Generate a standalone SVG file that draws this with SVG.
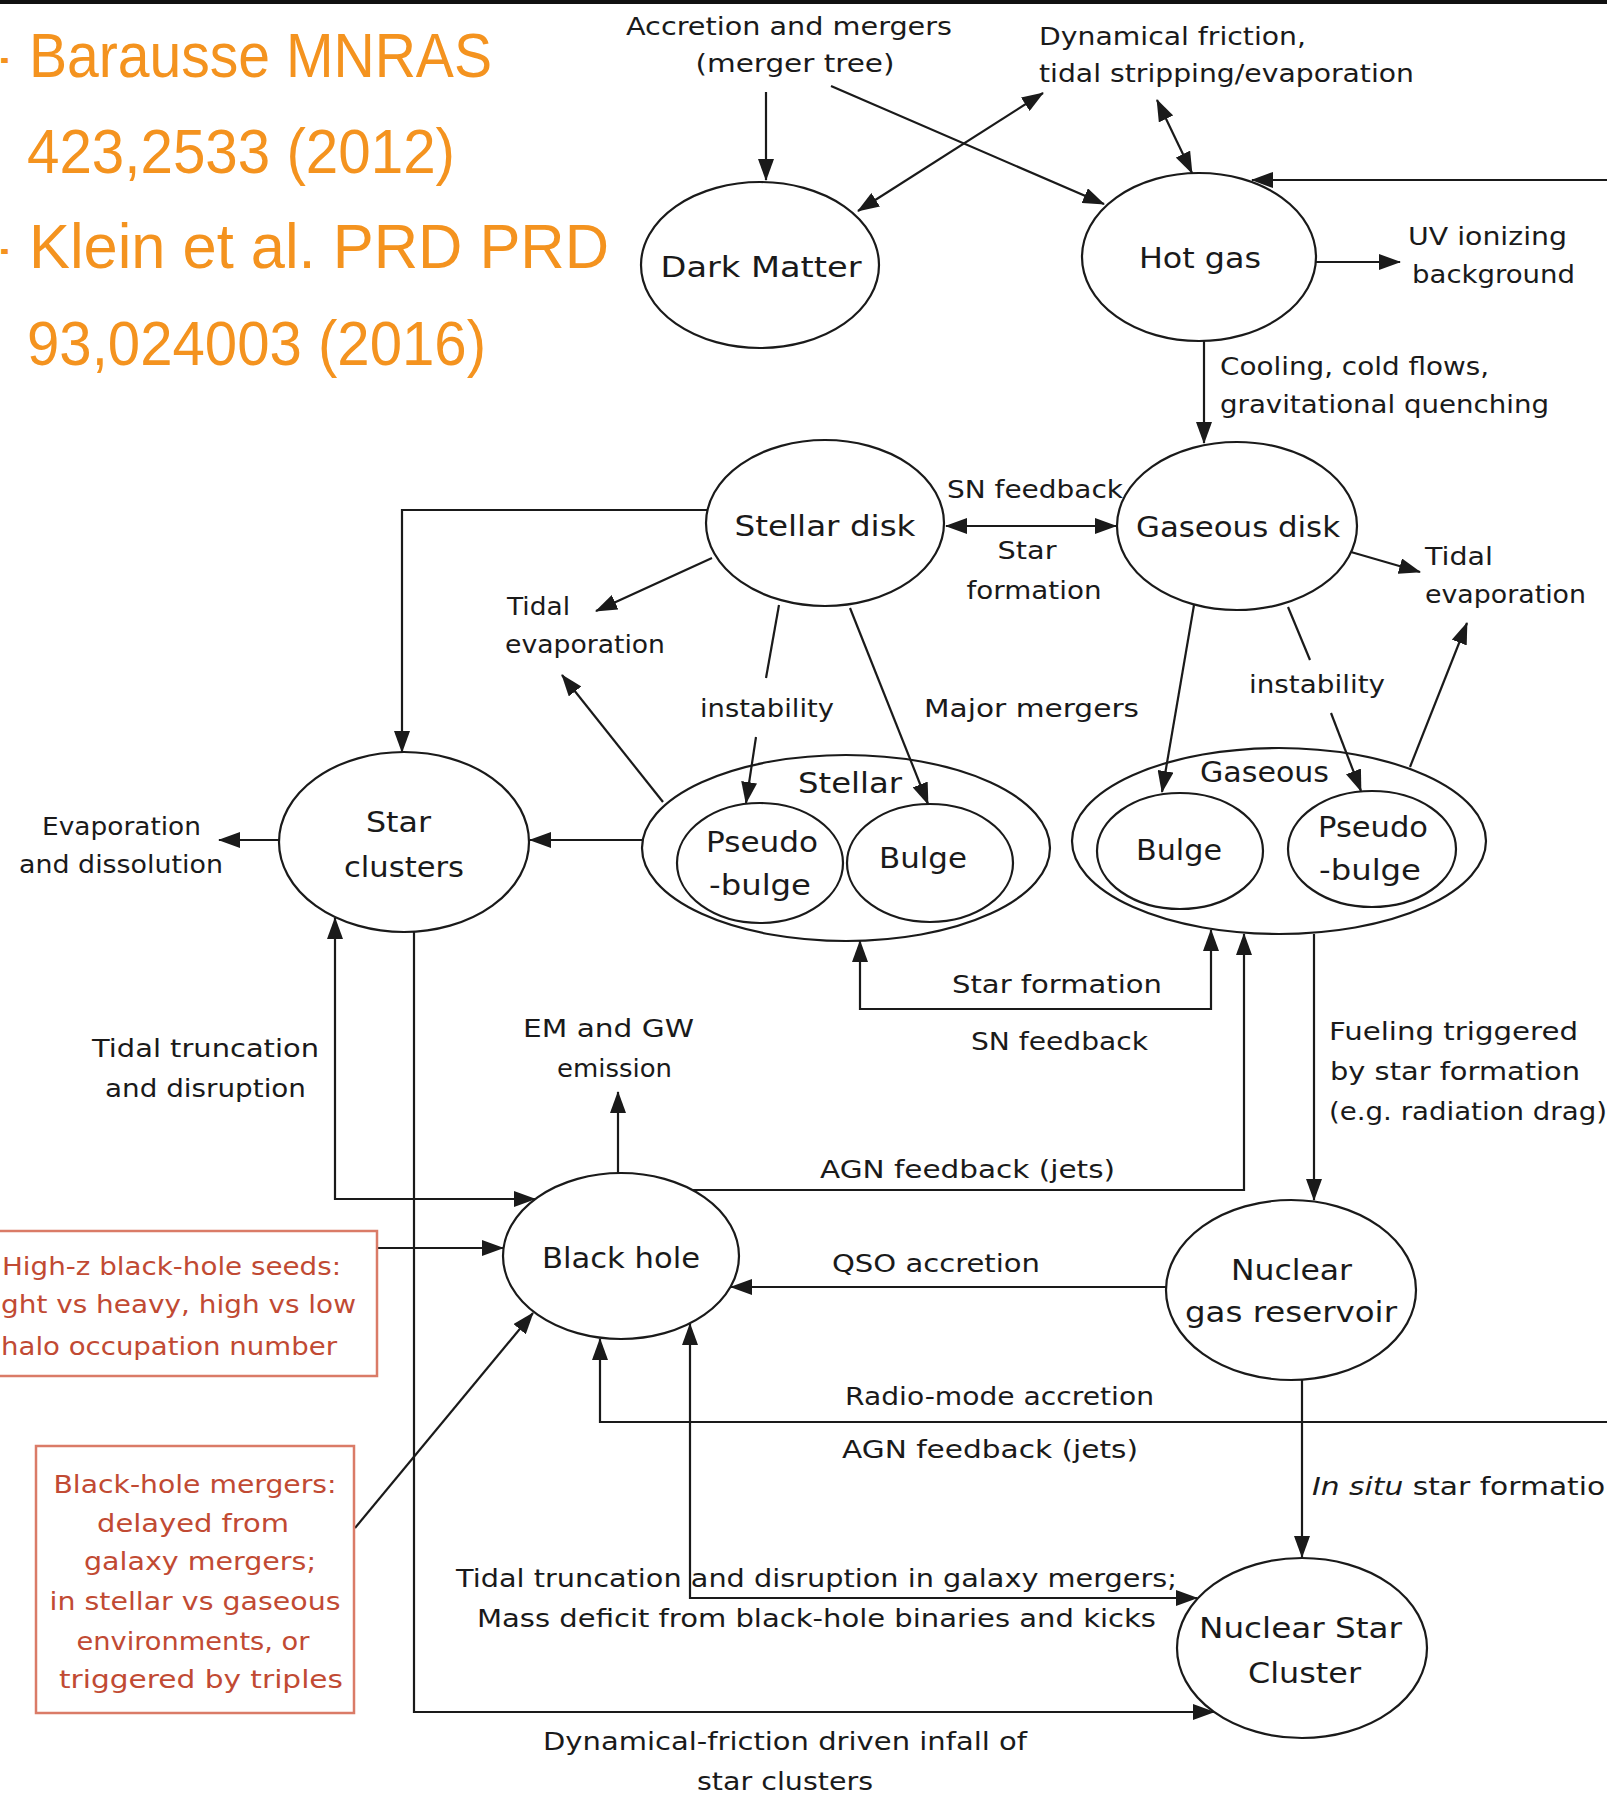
<svg xmlns="http://www.w3.org/2000/svg" width="1607" height="1794" viewBox="0 0 1607 1794">
<defs>
<marker id="ah" viewBox="0 0 22 16" refX="21" refY="8" markerWidth="22" markerHeight="16" markerUnits="userSpaceOnUse" orient="auto-start-reverse">
<path d="M0,0 L22,8 L0,16 z" fill="#1a1a1a"/>
</marker>
<style>
.ref{font-family:"Liberation Sans",Arial,sans-serif;font-size:63px;fill:#F4931F;}
.n{fill:none;stroke:#1a1a1a;stroke-width:2.2;}
.c{fill:none;stroke:#1a1a1a;stroke-width:2.2;}
.a{marker-end:url(#ah);}
.b{marker-start:url(#ah);marker-end:url(#ah);}
.t{font-family:"DejaVu Sans","Liberation Sans",sans-serif;font-size:25px;fill:#1a1a1a;}
.nt{font-family:"DejaVu Sans","Liberation Sans",sans-serif;font-size:28px;fill:#1a1a1a;}
.m{text-anchor:middle;}
.rb{fill:none;stroke:#DA7B67;stroke-width:2.5;}
.rt{font-family:"DejaVu Sans","Liberation Sans",sans-serif;font-size:25px;fill:#C14A33;}
</style>
</defs>
<rect x="0" y="0" width="1607" height="1794" fill="#ffffff"/>
<rect x="0" y="0" width="1607" height="4" fill="#111111"/>

<g id="references">
<text class="ref" x="0" y="77" textLength="9" lengthAdjust="spacingAndGlyphs">-</text>
<text class="ref" x="29" y="77" textLength="463" lengthAdjust="spacingAndGlyphs">Barausse MNRAS</text>
<text class="ref" x="27" y="173" textLength="428" lengthAdjust="spacingAndGlyphs">423,2533 (2012)</text>
<text class="ref" x="0" y="268" textLength="9" lengthAdjust="spacingAndGlyphs">-</text>
<text class="ref" x="29" y="268" textLength="580" lengthAdjust="spacingAndGlyphs">Klein et al. PRD PRD</text>
<text class="ref" x="27" y="365" textLength="459" lengthAdjust="spacingAndGlyphs">93,024003 (2016)</text>
</g>

<g id="connectors">
<path class="c a" d="M766,92 L766,180"/>
<path class="c a" d="M831,86 L1104,204"/>
<path class="c b" d="M858,211 L1043,93"/>
<path class="c b" d="M1157,100 L1192,173"/>
<path class="c a" d="M1607,180 L1252,180"/>
<path class="c a" d="M1316,262 L1400,262"/>
<path class="c a" d="M1204,341 L1204,443"/>
<path class="c b" d="M946,526 L1116,526"/>
<path class="c a" d="M1351,552 L1420,572"/>
<path class="c a" d="M712,558 L596,611"/>
<path class="c a" d="M707,510 L402,510 L402,752"/>
<path class="c" d="M779,605 L766,678"/>
<path class="c a" d="M756,737 L746,803"/>
<path class="c a" d="M850,608 L928,804"/>
<path class="c a" d="M663,802 L562,675"/>
<path class="c a" d="M642,840 L530,840"/>
<path class="c a" d="M279,840 L219,840"/>
<path class="c a" d="M1194,605 L1162,792"/>
<path class="c" d="M1288,607 L1310,660"/>
<path class="c a" d="M1331,713 L1361,791"/>
<path class="c a" d="M1410,767 L1467,623"/>
<path class="c b" d="M860,941 L860,1009 L1211,1009 L1211,930"/>
<path class="c a" d="M693,1190 L1244,1190 L1244,934"/>
<path class="c a" d="M1314,934 L1314,1200"/>
<path class="c a" d="M1166,1287 L731,1287"/>
<path class="c b" d="M535,1199 L335,1199 L335,918"/>
<path class="c a" d="M414,932 L414,1712 L1214,1712"/>
<path class="c a" d="M377,1248 L503,1248"/>
<path class="c a" d="M355,1528 L533,1313"/>
<path class="c a" d="M618,1173 L618,1092"/>
<path class="c a" d="M1607,1422 L600,1422 L600,1339"/>
<path class="c b" d="M690,1324 L690,1598 L1197,1598"/>
<path class="c a" d="M1302,1380 L1302,1557"/>
</g>

<g id="label-accretion">
<text class="t m" x="789" y="35" textLength="326" lengthAdjust="spacingAndGlyphs">Accretion and mergers</text>
<text class="t m" x="795" y="72" textLength="199" lengthAdjust="spacingAndGlyphs">(merger tree)</text>
</g>
<g id="label-dynfric">
<text class="t" x="1039" y="45" textLength="267" lengthAdjust="spacingAndGlyphs">Dynamical friction,</text>
<text class="t" x="1039" y="82" textLength="375" lengthAdjust="spacingAndGlyphs">tidal stripping/evaporation</text>
</g>

<g id="node-dark-matter">
<ellipse class="n" cx="760" cy="265" rx="119" ry="83"/>
<text class="nt m" x="761" y="277" textLength="201" lengthAdjust="spacingAndGlyphs">Dark Matter</text>
</g>
<g id="node-hot-gas">
<ellipse class="n" cx="1199" cy="257" rx="117" ry="84"/>
<text class="nt m" x="1200" y="268" textLength="122" lengthAdjust="spacingAndGlyphs">Hot gas</text>
</g>
<g id="label-uv">
<text class="t" x="1408" y="245" textLength="159" lengthAdjust="spacingAndGlyphs">UV ionizing</text>
<text class="t" x="1412" y="283" textLength="163" lengthAdjust="spacingAndGlyphs">background</text>
</g>
<g id="label-cooling">
<text class="t" x="1220" y="375" textLength="269" lengthAdjust="spacingAndGlyphs">Cooling, cold flows,</text>
<text class="t" x="1220" y="413" textLength="329" lengthAdjust="spacingAndGlyphs">gravitational quenching</text>
</g>

<g id="node-stellar-disk">
<ellipse class="n" cx="825" cy="523" rx="119" ry="83"/>
<text class="nt m" x="825" y="536" textLength="181" lengthAdjust="spacingAndGlyphs">Stellar disk</text>
</g>
<g id="node-gaseous-disk">
<ellipse class="n" cx="1237" cy="526" rx="120" ry="84"/>
<text class="nt m" x="1238" y="537" textLength="204" lengthAdjust="spacingAndGlyphs">Gaseous disk</text>
</g>
<g id="label-sn-sf">
<text class="t" x="947" y="498" textLength="176" lengthAdjust="spacingAndGlyphs">SN feedback</text>
<text class="t m" x="1027" y="559" textLength="59" lengthAdjust="spacingAndGlyphs">Star</text>
<text class="t m" x="1034" y="599" textLength="135" lengthAdjust="spacingAndGlyphs">formation</text>
</g>
<g id="label-tidal-right">
<text class="t" x="1425" y="565" textLength="68" lengthAdjust="spacingAndGlyphs">Tidal</text>
<text class="t" x="1425" y="603" textLength="161" lengthAdjust="spacingAndGlyphs">evaporation</text>
</g>
<g id="label-tidal-left">
<text class="t" x="507" y="615" textLength="63" lengthAdjust="spacingAndGlyphs">Tidal</text>
<text class="t" x="505" y="653" textLength="160" lengthAdjust="spacingAndGlyphs">evaporation</text>
</g>
<g id="label-instab">
<text class="t" x="700" y="717" textLength="134" lengthAdjust="spacingAndGlyphs">instability</text>
<text class="t" x="924" y="717" textLength="215" lengthAdjust="spacingAndGlyphs">Major mergers</text>
<text class="t" x="1249" y="693" textLength="136" lengthAdjust="spacingAndGlyphs">instability</text>
</g>

<g id="node-stellar-bulges">
<ellipse class="n" cx="846" cy="848" rx="204" ry="93"/>
<text class="nt" x="798" y="793" textLength="104" lengthAdjust="spacingAndGlyphs">Stellar</text>
<g id="node-stellar-pseudobulge">
<ellipse class="n" cx="760" cy="863" rx="83" ry="60"/>
<text class="nt" x="706" y="852" textLength="112" lengthAdjust="spacingAndGlyphs">Pseudo</text>
<text class="nt" x="709" y="895" textLength="102" lengthAdjust="spacingAndGlyphs">-bulge</text>
</g>
<g id="node-stellar-bulge">
<ellipse class="n" cx="930" cy="863" rx="83" ry="59"/>
<text class="nt" x="879" y="868" textLength="88" lengthAdjust="spacingAndGlyphs">Bulge</text>
</g>
</g>

<g id="node-gaseous-bulges">
<ellipse class="n" cx="1279" cy="841" rx="207" ry="93"/>
<text class="nt" x="1200" y="782" textLength="129" lengthAdjust="spacingAndGlyphs">Gaseous</text>
<g id="node-gaseous-bulge">
<ellipse class="n" cx="1180" cy="851" rx="83" ry="58"/>
<text class="nt" x="1136" y="860" textLength="86" lengthAdjust="spacingAndGlyphs">Bulge</text>
</g>
<g id="node-gaseous-pseudobulge">
<ellipse class="n" cx="1372" cy="849" rx="84" ry="58"/>
<text class="nt" x="1318" y="837" textLength="110" lengthAdjust="spacingAndGlyphs">Pseudo</text>
<text class="nt" x="1319" y="880" textLength="102" lengthAdjust="spacingAndGlyphs">-bulge</text>
</g>
</g>

<g id="node-star-clusters">
<ellipse class="n" cx="404" cy="842" rx="125" ry="90"/>
<text class="nt" x="366" y="832" textLength="65" lengthAdjust="spacingAndGlyphs">Star</text>
<text class="nt" x="344" y="877" textLength="120" lengthAdjust="spacingAndGlyphs">clusters</text>
</g>
<g id="label-evap">
<text class="t" x="42" y="835" textLength="159" lengthAdjust="spacingAndGlyphs">Evaporation</text>
<text class="t" x="19" y="873" textLength="204" lengthAdjust="spacingAndGlyphs">and dissolution</text>
</g>

<g id="label-sf-sn">
<text class="t" x="952" y="993" textLength="210" lengthAdjust="spacingAndGlyphs">Star formation</text>
<text class="t" x="971" y="1050" textLength="177" lengthAdjust="spacingAndGlyphs">SN feedback</text>
</g>
<g id="label-fueling">
<text class="t" x="1329" y="1040" textLength="249" lengthAdjust="spacingAndGlyphs">Fueling triggered</text>
<text class="t" x="1330" y="1080" textLength="250" lengthAdjust="spacingAndGlyphs">by star formation</text>
<text class="t" x="1329" y="1120" textLength="278" lengthAdjust="spacingAndGlyphs">(e.g. radiation drag)</text>
</g>
<g id="label-tidal-trunc">
<text class="t" x="92" y="1057" textLength="227" lengthAdjust="spacingAndGlyphs">Tidal truncation</text>
<text class="t" x="105" y="1097" textLength="201" lengthAdjust="spacingAndGlyphs">and disruption</text>
</g>
<g id="label-em-gw">
<text class="t" x="523" y="1037" textLength="171" lengthAdjust="spacingAndGlyphs">EM and GW</text>
<text class="t" x="557" y="1077" textLength="115" lengthAdjust="spacingAndGlyphs">emission</text>
</g>
<g id="label-agn-upper">
<text class="t" x="820" y="1178" textLength="295" lengthAdjust="spacingAndGlyphs">AGN feedback (jets)</text>
</g>

<g id="node-black-hole">
<ellipse class="n" cx="621" cy="1256" rx="118" ry="83"/>
<text class="nt" x="542" y="1268" textLength="158" lengthAdjust="spacingAndGlyphs">Black hole</text>
</g>
<g id="label-qso">
<text class="t" x="832" y="1272" textLength="208" lengthAdjust="spacingAndGlyphs">QSO accretion</text>
</g>
<g id="node-nuclear-gas">
<ellipse class="n" cx="1291" cy="1290" rx="125" ry="90"/>
<text class="nt" x="1231" y="1280" textLength="121" lengthAdjust="spacingAndGlyphs">Nuclear</text>
<text class="nt" x="1185" y="1322" textLength="212" lengthAdjust="spacingAndGlyphs">gas reservoir</text>
</g>
<g id="label-radio">
<text class="t" x="845" y="1405" textLength="309" lengthAdjust="spacingAndGlyphs">Radio-mode accretion</text>
<text class="t" x="842" y="1458" textLength="296" lengthAdjust="spacingAndGlyphs">AGN feedback (jets)</text>
</g>
<g id="label-insitu">
<text class="t" x="1312" y="1495" textLength="312" lengthAdjust="spacingAndGlyphs"><tspan font-style="italic">In situ</tspan> star formation</text>
</g>
<g id="label-tidal-mergers">
<text class="t" x="456" y="1587" textLength="721" lengthAdjust="spacingAndGlyphs">Tidal truncation and disruption in galaxy mergers;</text>
<text class="t" x="477" y="1627" textLength="679" lengthAdjust="spacingAndGlyphs">Mass deficit from black-hole binaries and kicks</text>
</g>
<g id="node-nsc">
<ellipse class="n" cx="1302" cy="1648" rx="125" ry="90"/>
<text class="nt" x="1199" y="1638" textLength="203" lengthAdjust="spacingAndGlyphs">Nuclear Star</text>
<text class="nt" x="1248" y="1683" textLength="113" lengthAdjust="spacingAndGlyphs">Cluster</text>
</g>
<g id="label-dynfric-infall">
<text class="t" x="543" y="1750" textLength="484" lengthAdjust="spacingAndGlyphs">Dynamical-friction driven infall of</text>
<text class="t" x="697" y="1790" textLength="176" lengthAdjust="spacingAndGlyphs">star clusters</text>
</g>

<g id="node-seeds">
<rect class="rb" x="-10" y="1231" width="387" height="145"/>
<text class="rt" x="2" y="1275" textLength="339" lengthAdjust="spacingAndGlyphs">High-z black-hole seeds:</text>
<text class="rt" x="1" y="1313" textLength="355" lengthAdjust="spacingAndGlyphs">ght vs heavy, high vs low</text>
<text class="rt" x="1" y="1355" textLength="336" lengthAdjust="spacingAndGlyphs">halo occupation number</text>
</g>
<g id="node-bh-mergers">
<rect class="rb" x="36" y="1446" width="318" height="267"/>
<text class="rt m" x="195" y="1493" textLength="283" lengthAdjust="spacingAndGlyphs">Black-hole mergers:</text>
<text class="rt m" x="193" y="1532" textLength="192" lengthAdjust="spacingAndGlyphs">delayed from</text>
<text class="rt m" x="200" y="1570" textLength="232" lengthAdjust="spacingAndGlyphs">galaxy mergers;</text>
<text class="rt m" x="195" y="1610" textLength="291" lengthAdjust="spacingAndGlyphs">in stellar vs gaseous</text>
<text class="rt m" x="193" y="1650" textLength="233" lengthAdjust="spacingAndGlyphs">environments, or</text>
<text class="rt m" x="201" y="1688" textLength="284" lengthAdjust="spacingAndGlyphs">triggered by triples</text>
</g>
</svg>
